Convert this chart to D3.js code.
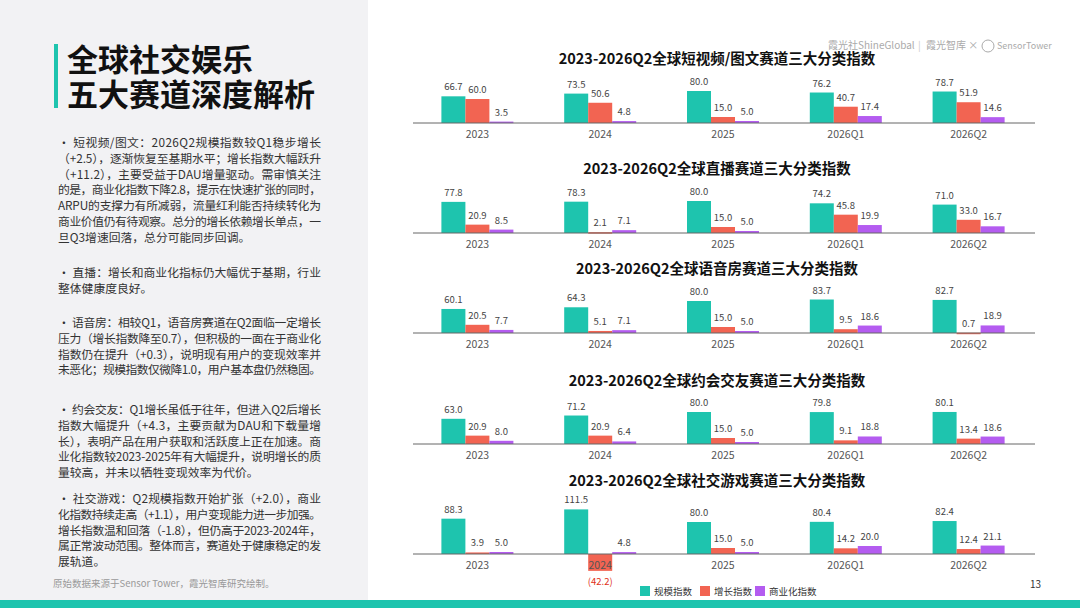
<!DOCTYPE html>
<html><head><meta charset="utf-8">
<script src="https://cdn.jsdelivr.net/npm/d3@7"></script>
<style>body{margin:0;background:#fff}svg{display:block;font-family:"Noto Sans CJK SC","Noto Sans",sans-serif}</style>
</head><body><div id="page"></div>
<script>
// data
var categories = ["2023", "2024", "2025", "2026Q1", "2026Q2"];
var seriesNames = ["规模指数", "增长指数", "商业化指数"];
var colors = ["#1ec4ae", "#f26452", "#b45cf0"];
var panelTitles = [
  "2023-2026Q2全球短视频/图文赛道三大分类指数",
  "2023-2026Q2全球直播赛道三大分类指数",
  "2023-2026Q2全球语音房赛道三大分类指数",
  "2023-2026Q2全球约会交友赛道三大分类指数",
  "2023-2026Q2全球社交游戏赛道三大分类指数"
];
var scaleIdx = [[66.7, 73.5, 80.0, 76.2, 78.7], [77.8, 78.3, 80.0, 74.2, 71.0], [60.1, 64.3, 80.0, 83.7, 82.7], [63.0, 71.2, 80.0, 79.8, 80.1], [88.3, 111.5, 80.0, 80.4, 82.4]];
var growthIdx = [[60.0, 50.6, 15.0, 40.7, 51.9], [20.9, 2.1, 15.0, 45.8, 33.0], [20.5, 5.1, 15.0, 9.5, 0.7], [20.9, 20.9, 15.0, 9.1, 13.4], [3.9, -42.2, 15.0, 14.2, 12.4]];
var commIdx = [[3.5, 4.8, 5.0, 17.4, 14.6], [8.5, 7.1, 5.0, 19.9, 16.7], [7.7, 7.1, 5.0, 18.6, 18.9], [8.0, 6.4, 5.0, 18.8, 18.6], [5.0, 4.8, 5.0, 20.0, 21.1]];

var textParas = [
  ["・ 短视频/图文：2026Q2规模指数较Q1稳步增长", "（+2.5），逐渐恢复至基期水平；增长指数大幅跃升", "（+11.2），主要受益于DAU增量驱动。需审慎关注", "的是，商业化指数下降2.8，提示在快速扩张的同时，", "ARPU的支撑力有所减弱，流量红利能否持续转化为", "商业价值仍有待观察。总分的增长依赖增长单点，一", "旦Q3增速回落，总分可能同步回调。"],
  ["・ 直播：增长和商业化指标仍大幅优于基期，行业", "整体健康度良好。"],
  ["・ 语音房：相较Q1，语音房赛道在Q2面临一定增长", "压力（增长指数降至0.7），但积极的一面在于商业化", "指数仍在提升（+0.3），说明现有用户的变现效率并", "未恶化；规模指数仅微降1.0，用户基本盘仍然稳固。"],
  ["・ 约会交友：Q1增长虽低于往年，但进入Q2后增长", "指数大幅提升（+4.3，主要贡献为DAU和下载量增", "长），表明产品在用户获取和活跃度上正在加速。商", "业化指数较2023-2025年有大幅提升，说明增长的质", "量较高，并未以牺牲变现效率为代价。"],
  ["・ 社交游戏：Q2规模指数开始扩张（+2.0），商业", "化指数持续走高（+1.1），用户变现能力进一步加强。", "增长指数温和回落（-1.8），但仍高于2023-2024年，", "属正常波动范围。整体而言，赛道处于健康稳定的发", "展轨道。"]
];
var paraTops = [147, 277, 327, 414, 503];

var svg = d3.select("#page").append("svg").attr("width", 1080).attr("height", 608);

// left panel
svg.append("rect").attr("width", 368).attr("height", 608).attr("fill", "#f2f2f4");
svg.append("rect").attr("x", 54).attr("y", 44).attr("width", 4).attr("height", 64).attr("fill", "#1ec4ae");
["全球社交娱乐", "五大赛道深度解析"].forEach(function(t, i) {
  svg.append("text").attr("x", 67).attr("y", 71 + i * 35).attr("font-size", 31).attr("font-weight", 700)
    .attr("fill", "#111").text(t);
});
textParas.forEach(function(lines, p) {
  lines.forEach(function(l, i) {
    svg.append("text").attr("x", 58).attr("y", paraTops[p] + i * 15.8).attr("font-size", 11.8)
      .attr("fill", "#333").attr("textLength", l.length > 20 ? 263 : null).text(l);
  });
});
svg.append("text").attr("x", 53).attr("y", 587).attr("font-size", 9.5).attr("fill", "#999")
  .text("原始数据来源于Sensor Tower，霞光智库研究绘制。");

// header logos
svg.append("text").attr("x", 828).attr("y", 49).attr("font-size", 10).attr("fill", "#aaa").text("霞光社ShineGlobal");
svg.append("text").attr("x", 918).attr("y", 49).attr("font-size", 10).attr("fill", "#ccc").text("|");
svg.append("text").attr("x", 926).attr("y", 49).attr("font-size", 10).attr("fill", "#aaa").text("霞光智库  ×");
svg.append("circle").attr("cx", 988).attr("cy", 46).attr("r", 6).attr("fill", "none").attr("stroke", "#aaa");
svg.append("text").attr("x", 997).attr("y", 49).attr("font-size", 9).attr("fill", "#aaa").text("SensorTower");

// panels
var x0 = d3.scaleBand().domain(categories).range([416, 1030]).paddingInner(0);
var x1 = d3.scaleBand().domain([0, 1, 2]).range([0, 72]);
var y = d3.scaleLinear().domain([0, 100]).range([0, 40]);
var titleYs = [64, 174, 274, 386, 486];
var baseYs = [123, 233, 333, 444, 554];

panelTitles.forEach(function(title, p) {
  var g = svg.append("g");
  var b = baseYs[p];
  g.append("text").attr("x", 717).attr("y", titleYs[p]).attr("text-anchor", "middle")
    .attr("font-size", 14.5).attr("font-weight", 700).attr("fill", "#111").text(title);
  var vals = [scaleIdx[p], growthIdx[p], commIdx[p]];
  categories.forEach(function(c, ci) {
    var gx = x0(c) + x0.bandwidth() / 2 - 36;
    vals.forEach(function(s, si) {
      var v = s[ci];
      var h = y(Math.abs(v));
      var bx = gx + x1(si);
      g.append("rect").attr("x", bx).attr("width", x1.bandwidth())
        .attr("y", v >= 0 ? b - h : b).attr("height", Math.max(h, 1.5)).attr("fill", colors[si]);
      g.append("text").attr("x", bx + x1.bandwidth() / 2).attr("y", v >= 0 ? b - h - 6 : b + h + 14)
        .attr("text-anchor", "middle").attr("font-size", 9.5).attr("fill", v < 0 ? "#e03020" : "#444")
        .text(v < 0 ? "(" + Math.abs(v).toFixed(1) + ")" : v.toFixed(1));
    });
  });
  var axis = g.append("g").attr("transform", "translate(0," + b + ")")
    .call(d3.axisBottom(x0).tickSize(0).tickPadding(8));
  axis.select(".domain").attr("stroke", "#666").attr("d", "M413,0H1035");
  axis.selectAll("text").attr("font-size", 10.5).attr("fill", "#555").attr("font-family", "Noto Sans CJK SC");
});

// legend
var leg = svg.append("g").attr("transform", "translate(640,586)");
seriesNames.forEach(function(n, i) {
  var lx = [0, 60, 115][i];
  leg.append("rect").attr("x", lx).attr("y", 0).attr("width", 10).attr("height", 10).attr("fill", colors[i]);
  leg.append("text").attr("x", lx + 14).attr("y", 9).attr("font-size", 9.5).attr("fill", "#333").text(n);
});
svg.append("text").attr("x", 1030).attr("y", 588).attr("font-size", 10).attr("fill", "#333").text("13");
svg.append("rect").attr("y", 600).attr("width", 1080).attr("height", 8).attr("fill", "#1ec4ae");
</script></body></html>
